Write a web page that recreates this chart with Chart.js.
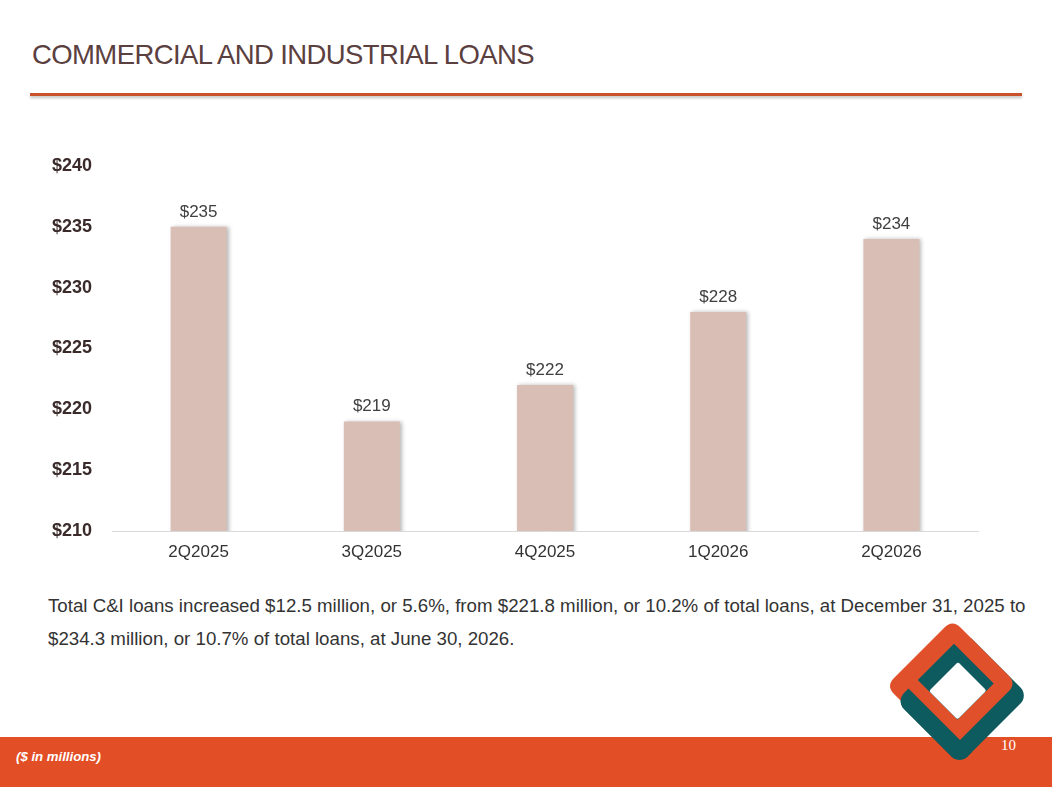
<!DOCTYPE html>
<html>
<head>
<meta charset="utf-8">
<script src="https://cdn.jsdelivr.net/npm/chart.js@4.4.1/dist/chart.umd.min.js"></script>
<style>
  html, body { margin: 0; padding: 0; background: #fff; }
  body { width: 1052px; height: 787px; position: relative; overflow: hidden; font-family: "Liberation Sans", Arial, sans-serif; }
  .title { position: absolute; left: 32px; top: 41px; font-size: 27.5px; line-height: 1; color: #5b4040; letter-spacing: -0.6px; white-space: nowrap; }
  .rule { position: absolute; left: 30px; top: 93px; width: 992px; height: 3px; background: #c9512b; box-shadow: 0 2px 3px rgba(0,0,0,0.25); }
  .chart-box { position: absolute; left: 0; top: 120px; width: 1052px; height: 460px; }
  .note { position: absolute; left: 48px; top: 589px; font-size: 18.7px; line-height: 33px; color: #333; white-space: nowrap; }
  .footer { position: absolute; left: 0; top: 737px; width: 1052px; height: 50px; background: #e24e25; }
  .units { position: absolute; left: 16px; top: 750px; font-size: 13.2px; line-height: 1; font-weight: bold; font-style: italic; color: #fff; }
  .page { position: absolute; left: 1001px; top: 737px; font-family: "Liberation Serif", "DejaVu Serif", serif; font-size: 15px; color: #fff; }
  svg.logo { position: absolute; left: 860px; top: 600px; }
</style>
</head>
<body>
<div class="title">COMMERCIAL AND INDUSTRIAL LOANS</div>
<div class="rule"></div>
<div class="chart-box"><canvas id="chart"></canvas></div>
<div class="note">Total C&amp;I loans increased $12.5 million, or 5.6%, from $221.8 million, or 10.2% of total loans, at December 31, 2025 to<br>$234.3 million, or 10.7% of total loans, at June 30, 2026.</div>
<div class="footer"></div>
<div class="units">($ in millions)</div>
<svg class="logo" width="190" height="180" viewBox="860 600 190 180">
  <defs>
    <clipPath id="tealLowerLeft" clipPathUnits="userSpaceOnUse">
      <rect x="1590" y="190" width="150" height="30"/>
    </clipPath>
  </defs>
  <!-- drawn in rotated (x+y, x-y) coordinates -->
  <g transform="matrix(0.5 0.5 0.5 -0.5 0 0)">
    <rect x="1597" y="195" width="127" height="138" rx="16" fill="#0e5b5f"/>
    <path fill="#e0502a" fill-rule="evenodd"
      d="M1588 200 H1684 Q1700 200 1700 216 V317 Q1700 333 1684 333 H1588 Q1572 333 1572 317 V216 Q1572 200 1588 200 Z
         M1598 238 H1677 V310 H1598 Z"/>
    <rect x="1598" y="238" width="79" height="72" fill="#0e5b5f"/>
    <rect x="1597" y="195" width="127" height="138" rx="16" fill="#0e5b5f" clip-path="url(#tealLowerLeft)"/>
    <rect x="1620" y="238" width="57" height="58" rx="3" fill="#ffffff"/>
  </g>
</svg>
<div class="page">10</div>

<script>
const quarters = ["2Q2025", "3Q2025", "4Q2025", "1Q2026", "2Q2026"]
const loanBalances = [235, 219, 222, 228, 234]
const yTicks = [210, 215, 220, 225, 230, 235, 240]

const fontFamily = "'Liberation Sans', Arial, sans-serif"

const barShadow = {
  id: "barShadow",
  beforeDatasetsDraw(chart) {
    const ctx = chart.ctx
    ctx.save()
    ctx.shadowColor = "rgba(0, 0, 0, 0.28)"
    ctx.shadowBlur = 4
    ctx.shadowOffsetX = 2
    ctx.shadowOffsetY = 0
  },
  afterDatasetsDraw(chart) {
    chart.ctx.restore()
  },
}

const valueLabels = {
  id: "valueLabels",
  afterDraw(chart) {
    const ctx = chart.ctx
    const meta = chart.getDatasetMeta(0)
    ctx.save()
    ctx.font = `17px ${fontFamily}`
    ctx.fillStyle = "#404040"
    ctx.textAlign = "center"
    ctx.textBaseline = "middle"
    meta.data.forEach((bar, i) => {
      ctx.fillText(`$${loanBalances[i]}`, bar.x, bar.y - 15)
    })
    ctx.restore()
  },
}

new Chart(document.getElementById("chart"), {
  type: "bar",
  data: {
    labels: quarters,
    datasets: [
      {
        label: "C&I loans",
        data: loanBalances,
        backgroundColor: "#d9beb5",
        borderWidth: 0,
        categoryPercentage: 1,
        barPercentage: 0.323,
      },
    ],
  },
  options: {
    responsive: true,
    maintainAspectRatio: false,
    animation: false,
    layout: {
      padding: { left: 0, right: 74, top: 46, bottom: 0 },
    },
    scales: {
      y: {
        min: yTicks[0],
        max: yTicks[yTicks.length - 1],
        afterBuildTicks: (scale) => {
          scale.ticks = yTicks.map((value) => ({ value }))
        },
        afterFit: (scale) => {
          scale.width = 112
        },
        border: { display: false },
        grid: { display: false, drawTicks: false },
        ticks: {
          padding: 20,
          color: "#3a2a2a",
          font: { family: fontFamily, size: 18, weight: "bold" },
          callback: (value) => `$${value}`,
        },
      },
      x: {
        afterFit: (scale) => {
          scale.height = 49
        },
        border: { display: true, color: "#d9d9d9", width: 1 },
        grid: { display: false, drawTicks: false },
        ticks: {
          padding: 11,
          color: "#333333",
          font: { family: fontFamily, size: 17 },
        },
      },
    },
    plugins: {
      legend: { display: false },
      tooltip: { enabled: false },
    },
  },
  plugins: [barShadow, valueLabels],
})
</script>
</body>
</html>
